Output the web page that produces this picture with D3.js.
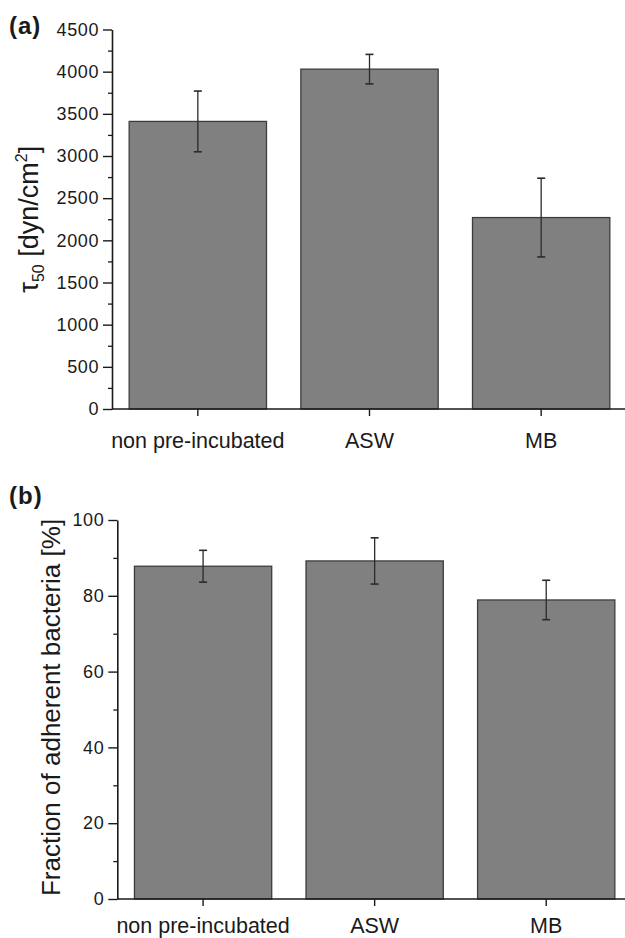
<!DOCTYPE html>
<html>
<head>
<meta charset="utf-8">
<script src="https://cdn.jsdelivr.net/npm/d3@7"></script>
<style>
  html, body { margin: 0; padding: 0; background: #fff; }
  svg { display: block; font-family: "Liberation Sans", Arial, sans-serif; }
</style>
</head>
<body>
<svg id="chart" width="625" height="938"></svg>
<script>
// ---- data ----
const categories = ["non pre-incubated", "ASW", "MB"];
const tauValues = [3410, 4030, 2270];
const tauErrors = [360, 175, 467];
const fractionValues = [87.8, 89.2, 78.9];
const fractionErrors = [4.2, 6.1, 5.2];
const tauTicks = [0, 500, 1000, 1500, 2000, 2500, 3000, 3500, 4000, 4500];
const tauMinorTicks = [250, 750, 1250, 1750, 2250, 2750, 3250, 3750, 4250];
const fractionTicks = [0, 20, 40, 60, 80, 100];
const fractionMinorTicks = [10, 30, 50, 70, 90];

const svg = d3.select("#chart");
const ink = "#1a1a1a";
const barFill = "#808080";
const barStroke = "#3c3c3c";

function panel(cfg) {
  const g = svg.append("g");
  const x = d3.scaleBand().domain(categories).range([cfg.x0, cfg.x1])
    .paddingInner(0.2).paddingOuter(0.1);
  const y = d3.scaleLinear().domain(cfg.domain).range([cfg.yBottom, cfg.yTop]);

  // bars
  g.selectAll("rect.bar").data(categories).enter().append("rect")
    .attr("class", "bar")
    .attr("x", d => x(d))
    .attr("width", x.bandwidth())
    .attr("y", (d, i) => y(cfg.values[i]))
    .attr("height", (d, i) => y(0) - y(cfg.values[i]))
    .attr("fill", barFill)
    .attr("stroke", barStroke)
    .attr("stroke-width", 1.3);

  // error bars
  const eb = g.selectAll("g.err").data(categories).enter().append("g")
    .attr("class", "err")
    .attr("stroke", "#2a2a2a").attr("stroke-width", 1.3);
  eb.append("line")
    .attr("x1", d => x(d) + x.bandwidth() / 2)
    .attr("x2", d => x(d) + x.bandwidth() / 2)
    .attr("y1", (d, i) => y(cfg.values[i] + cfg.errors[i]))
    .attr("y2", (d, i) => y(cfg.values[i] - cfg.errors[i]));
  [1, -1].forEach(s => {
    eb.append("line")
      .attr("x1", d => x(d) + x.bandwidth() / 2 - 4)
      .attr("x2", d => x(d) + x.bandwidth() / 2 + 4)
      .attr("y1", (d, i) => y(cfg.values[i] + s * cfg.errors[i]))
      .attr("y2", (d, i) => y(cfg.values[i] + s * cfg.errors[i]))
      .attr("stroke-width", 1.6);
  });

  // y axis (major)
  const yAxis = g.append("g")
    .attr("transform", `translate(${cfg.x0},0)`)
    .call(d3.axisLeft(y).tickValues(cfg.ticks).tickFormat(d3.format("d"))
      .tickSize(9).tickSizeOuter(0).tickPadding(4));
  yAxis.select(".domain").attr("stroke", ink).attr("stroke-width", 1.6);
  yAxis.selectAll(".tick line").attr("stroke", ink).attr("stroke-width", 1.4);
  yAxis.selectAll(".tick text")
    .attr("fill", ink)
    .style("font-size", "18px")
    .style("letter-spacing", "0.6px")
    .style("font-family", "'Liberation Sans', Arial, sans-serif");
  // minor ticks
  const yMinor = g.append("g")
    .attr("transform", `translate(${cfg.x0},0)`)
    .call(d3.axisLeft(y).tickValues(cfg.minor).tickSize(4).tickFormat(""));
  yMinor.select(".domain").remove();
  yMinor.selectAll(".tick line").attr("stroke", ink).attr("stroke-width", 1.3);

  // x axis
  const xAxis = g.append("g")
    .attr("transform", `translate(0,${cfg.yBottom})`)
    .call(d3.axisBottom(x).tickSize(7).tickSizeOuter(0).tickFormat(""));
  xAxis.select(".domain").attr("stroke", ink).attr("stroke-width", 1.6)
    .attr("d", `M${cfg.x0},0H625`);
  xAxis.selectAll(".tick line").attr("stroke", ink).attr("stroke-width", 1.4);
  // category labels
  g.selectAll("text.cat").data(categories).enter().append("text")
    .attr("class", "cat")
    .attr("x", d => x(d) + x.bandwidth() / 2)
    .attr("y", cfg.yBottom + cfg.catDy)
    .attr("text-anchor", "middle")
    .attr("fill", ink)
    .style("font-size", "21.5px")
    .text(d => d);

  // panel letter
  g.append("text")
    .attr("x", 9).attr("y", cfg.letterY)
    .attr("fill", ink)
    .style("font-size", "24px").style("font-weight", "bold")
    .style("letter-spacing", "1px")
    .text(cfg.letter);
  return { g, x, y };
}

const A = panel({
  x0: 112, x1: 627, yTop: 29.5, yBottom: 409, domain: [0, 4500],
  values: tauValues, errors: tauErrors, ticks: tauTicks, minor: tauMinorTicks,
  catDy: 39, letter: "(a)", letterY: 34
});
const B = panel({
  x0: 117.3, x1: 632, yTop: 520, yBottom: 899, domain: [0, 100],
  values: fractionValues, errors: fractionErrors, ticks: fractionTicks, minor: fractionMinorTicks,
  catDy: 34, letter: "(b)", letterY: 504
});

// y-axis labels
const la = svg.append("text")
  .attr("transform", `translate(38,${(29.5 + 409) / 2}) rotate(-90)`)
  .attr("text-anchor", "middle")
  .attr("fill", ink)
  .style("font-size", "27px");
la.append("tspan").text("τ");
la.append("tspan").attr("dy", 6).style("font-size", "16px").text("50");
la.append("tspan").attr("dy", -6).text(" [dyn/cm");
la.append("tspan").attr("dy", -11).style("font-size", "16px").text("2");
la.append("tspan").attr("dy", 11).text("]");

svg.append("text")
  .attr("transform", `translate(60,${(520 + 899) / 2 - 2}) rotate(-90)`)
  .attr("text-anchor", "middle")
  .attr("fill", ink)
  .style("font-size", "26px")
  .text("Fraction of adherent bacteria [%]");
</script>
</body>
</html>
